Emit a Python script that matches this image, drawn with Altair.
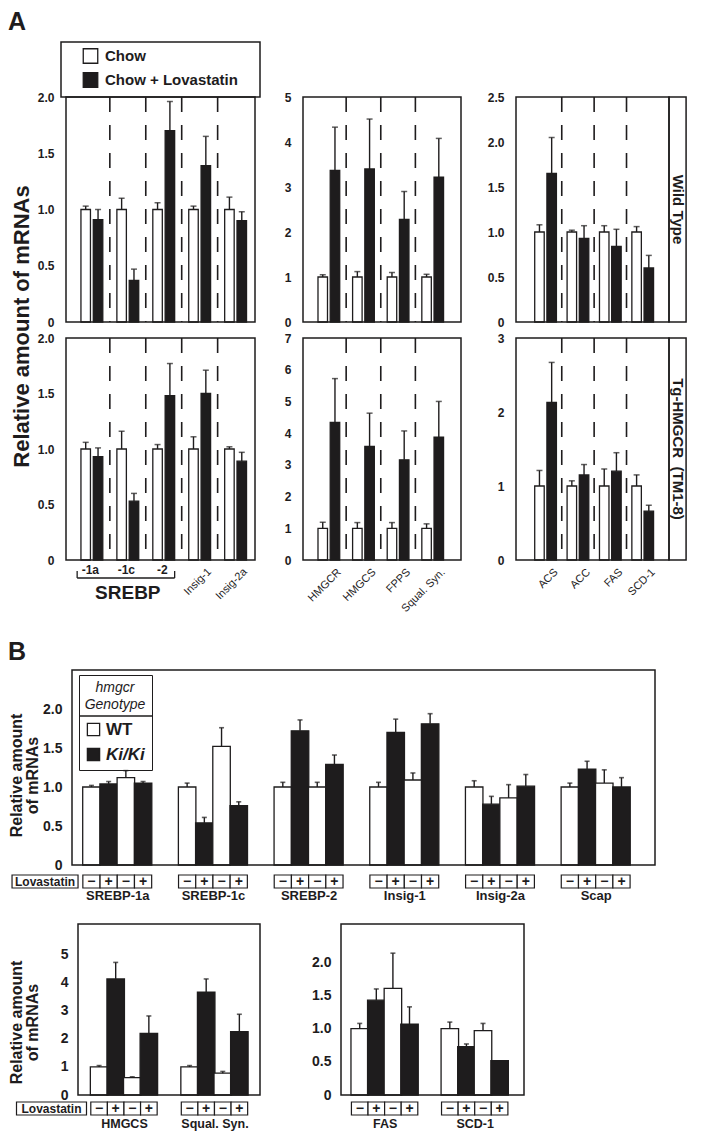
import json
import pandas as pd
import altair as alt

BLACK = "#1e1c1d"
FONT = "Liberation Sans, Arial, Helvetica, sans-serif"
TOT_W, TOT_H = 685, 1123

# ---------------- Panel A data ----------------
a_conditions = ["Chow", "Chow + Lovastatin"]
a_row_labels = ["Wild Type", "Tg-HMGCR \u00a0(TM1-8)"]
a_ytitle = "Relative amount of mRNAs"
a1_genes = ["-1a", "-1c", "-2", "Insig-1", "Insig-2a"]
a1_axis_genes = ["-1a", "-1c", "-2"]
a1_rot_genes = ["Insig-1", "Insig-2a"]
a1_group_label = "SREBP"
a2_genes = ["HMGCR", "HMGCS", "FPPS", "Squal. Syn."]
a3_genes = ["ACS", "ACC", "FAS", "SCD-1"]

# Wild type row
a1_wt_chow = [1.00, 1.00, 1.00, 1.00, 1.00]
a1_wt_chow_err = [0.03, 0.10, 0.06, 0.03, 0.11]
a1_wt_lova = [0.91, 0.37, 1.70, 1.39, 0.90]
a1_wt_lova_err = [0.09, 0.10, 0.26, 0.26, 0.08]
a2_wt_chow = [1.00, 1.00, 1.00, 1.00]
a2_wt_chow_err = [0.05, 0.12, 0.10, 0.06]
a2_wt_lova = [3.37, 3.40, 2.28, 3.22]
a2_wt_lova_err = [0.96, 1.11, 0.62, 0.86]
a3_wt_chow = [1.00, 1.00, 1.00, 1.00]
a3_wt_chow_err = [0.08, 0.02, 0.07, 0.06]
a3_wt_lova = [1.65, 0.93, 0.84, 0.60]
a3_wt_lova_err = [0.40, 0.14, 0.19, 0.14]

# Tg-HMGCR row
a1_tg_chow = [1.00, 1.00, 1.00, 1.00, 1.00]
a1_tg_chow_err = [0.06, 0.16, 0.04, 0.11, 0.02]
a1_tg_lova = [0.93, 0.53, 1.48, 1.50, 0.89]
a1_tg_lova_err = [0.08, 0.07, 0.29, 0.21, 0.08]
a2_tg_chow = [1.00, 1.00, 1.00, 1.00]
a2_tg_chow_err = [0.19, 0.18, 0.18, 0.14]
a2_tg_lova = [4.34, 3.58, 3.16, 3.87]
a2_tg_lova_err = [1.38, 1.05, 0.91, 1.13]
a3_tg_chow = [1.00, 1.00, 1.00, 1.00]
a3_tg_chow_err = [0.21, 0.07, 0.23, 0.15]
a3_tg_lova = [2.13, 1.15, 1.20, 0.66]
a3_tg_lova_err = [0.54, 0.14, 0.25, 0.08]

a1_yticks = [0, 0.5, 1.0, 1.5, 2.0]
a2_wt_yticks = [0, 1, 2, 3, 4, 5]
a3_wt_yticks = [0, 0.5, 1.0, 1.5, 2.0, 2.5]
a2_tg_yticks = [0, 1, 2, 3, 4, 5, 6, 7]
a3_tg_yticks = [0, 1, 2, 3]

# ---------------- Panel B data ----------------
b_ytitle = ["Relative amount", "of mRNAs"]
b_genotypes = ["WT", "Ki/Ki"]
b_bar_genotype = ["WT", "Ki/Ki", "WT", "Ki/Ki"]
b_lovastatin = ["\u2212", "+", "\u2212", "+"]
b_lov_label = "Lovastatin"
b_legend_title = ["hmgcr", "Genotype"]

b_top_genes = ["SREBP-1a", "SREBP-1c", "SREBP-2", "Insig-1", "Insig-2a", "Scap"]
b_top_vals = [
    [1.00, 1.04, 1.12, 1.05],
    [1.00, 0.54, 1.52, 0.76],
    [1.00, 1.72, 1.00, 1.29],
    [1.00, 1.70, 1.09, 1.81],
    [1.00, 0.78, 0.86, 1.01],
    [1.00, 1.23, 1.05, 1.00],
]
b_top_errs = [
    [0.02, 0.03, 0.09, 0.02],
    [0.05, 0.07, 0.24, 0.05],
    [0.06, 0.14, 0.06, 0.12],
    [0.06, 0.17, 0.09, 0.13],
    [0.08, 0.10, 0.17, 0.15],
    [0.05, 0.10, 0.17, 0.12],
]
b_bl_genes = ["HMGCS", "Squal. Syn."]
b_bl_vals = [[1.00, 4.14, 0.62, 2.20], [1.00, 3.67, 0.78, 2.26]]
b_bl_errs = [[0.05, 0.59, 0.03, 0.62], [0.05, 0.47, 0.06, 0.62]]
b_br_genes = ["FAS", "SCD-1"]
b_br_vals = [[1.00, 1.43, 1.61, 1.07], [1.00, 0.73, 0.97, 0.52]]
b_br_errs = [[0.08, 0.17, 0.53, 0.26], [0.10, 0.04, 0.11, 0.00]]

b_top_yticks = [0, 0.5, 1.0, 1.5, 2.0]
b_bl_yticks = [0, 1, 2, 3, 4, 5]
b_br_yticks = [0, 0.5, 1.0, 1.5, 2.0]

B_FILL = {"WT": "white", "Ki/Ki": BLACK}
A_FILL = {"Chow": "white", "Chow + Lovastatin": BLACK}


def names_expr(names):
    return json.dumps(names, ensure_ascii=False) + "[datum.value - 1]"


def y_axis(values, decimals, size, pad, x0, title=None, **kw):
    expr = ("datum.value == 0 ? '0' : format(datum.value, '.1f')"
            if decimals else "format(datum.value, 'd')")
    return alt.Axis(values=values, labelExpr=expr, labelFontSize=size,
                    labelFontWeight="bold", labelPadding=pad, grid=False,
                    ticks=False, domain=False, labelOverlap=False,
                    orient="left", offset=-x0, title=title, **kw)


def frame_layer(X, Y, dom, ymax):
    fdf = pd.DataFrame({"fx0": [dom[0]], "fx1": [dom[1]], "fy0": [0.0], "fy1": [ymax]})
    return (alt.Chart(fdf)
            .mark_rect(fillOpacity=0, stroke=BLACK, strokeWidth=1.5)
            .encode(x=X("fx0:Q"), x2="fx1:Q", y=Y("fy0:Q"), y2="fy1:Q"))


def a_panel(genes, chow, chow_err, lova, lova_err, ymax, yticks, decimals,
            x0, x1, ytop, ybot, dom, xaxis, ytitle_kw=None, extras=None,
            strip_label=None):
    step = (x1 - x0) / (dom[1] - dom[0])
    off = 6.5 / step
    rows = []
    for i, g in enumerate(genes):
        rows.append({"gene": g, "x": i + 1 - off, "val": chow[i],
                     "top": chow[i] + chow_err[i], "fillc": A_FILL[a_conditions[0]]})
        rows.append({"gene": g, "x": i + 1 + off, "val": lova[i],
                     "top": lova[i] + lova_err[i], "fillc": A_FILL[a_conditions[1]]})
    df = pd.DataFrame(rows)
    xs = alt.Scale(domain=dom, range=[x0, x1], nice=False, zero=False)
    ys = alt.Scale(domain=[0, ymax], range=[ybot, ytop], nice=False, zero=True)
    yax = y_axis(yticks, decimals, 12, 7, x0, **(ytitle_kw or {}))
    xax = None
    if xaxis is not None:
        xax = alt.Axis(orient="bottom", offset=-(TOT_H - ybot), grid=False, ticks=False,
                       domain=False, title=None, labelOverlap=False, labelFlush=False,
                       **xaxis)

    def X(f):
        return alt.X(f, scale=xs, axis=xax)

    def Y(f):
        return alt.Y(f, scale=ys, axis=yax)

    dash_df = pd.DataFrame({"b": [i + 1.5 for i in range(len(genes) - 1)],
                            "y0": [ymax] * (len(genes) - 1), "y1": [0.0] * (len(genes) - 1)})
    dashes = (alt.Chart(dash_df)
              .mark_rule(color=BLACK, strokeWidth=1.6, strokeDash=[15, 13])
              .encode(x=X("b:Q"), y=Y("y0:Q"), y2="y1:Q"))
    base = alt.Chart(df)
    bars = (base.mark_bar(size=9.5, stroke=BLACK, strokeWidth=1.3)
            .encode(x=X("x:Q"), y=Y("val:Q"), fill=alt.Fill("fillc:N", scale=None)))
    err = (base.mark_rule(color=BLACK, strokeWidth=1.4)
           .encode(x=X("x:Q"), y=Y("val:Q"), y2="top:Q"))
    cap = (base.mark_tick(orient="horizontal", size=6, thickness=1.5, color=BLACK)
           .encode(x=X("x:Q"), y=Y("top:Q")))
    layers = [dashes, bars, err, cap, frame_layer(X, Y, dom, ymax)]
    if strip_label is not None:
        sw = (TOT_W - x1 - 0.8) / step
        sdf = pd.DataFrame({"t": [strip_label], "sx0": [dom[1]], "sx1": [dom[1] + sw],
                            "sx": [dom[1] + sw / 2], "sy0": [0.0], "sy1": [ymax],
                            "sy": [ymax / 2]})
        srect = (alt.Chart(sdf).mark_rect(fillOpacity=0, stroke=BLACK, strokeWidth=1.5)
                 .encode(x=X("sx0:Q"), x2="sx1:Q", y=Y("sy0:Q"), y2="sy1:Q"))
        stext = (alt.Chart(sdf)
                 .mark_text(angle=90, fontSize=15, fontWeight="bold", font=FONT,
                            color=BLACK, baseline="middle", align="center")
                 .encode(x=X("sx:Q"), y=Y("sy:Q"), text="t:N"))
        layers += [srect, stext]
    if extras is not None:
        layers += extras(X, step, ybot)
    return alt.layer(*layers)


def a1_extras(X, step, ybot):
    ins_df = pd.DataFrame({"name": a1_rot_genes,
                           "x": [a1_genes.index(n) + 1 + 6 / step for n in a1_rot_genes]})
    ins = (alt.Chart(ins_df)
           .mark_text(angle=315, align="right", baseline="top", fontSize=11,
                      font=FONT, color=BLACK)
           .encode(x=X("x:Q"), y=alt.value(ybot + 6), text="name:N"))
    first = a1_genes.index(a1_axis_genes[0]) + 1
    last = a1_genes.index(a1_axis_genes[-1]) + 1
    x0, x1 = first - 15.5 / step, last + 11.5 / step
    br_df = pd.DataFrame({"x0": [x0], "x1": [x1]})
    hline = (alt.Chart(br_df).mark_rule(color=BLACK, strokeWidth=1.3)
             .encode(x=X("x0:Q"), x2="x1:Q", y=alt.value(ybot + 18)))
    hook_df = pd.DataFrame({"x": [x0, x1]})
    hooks = (alt.Chart(hook_df).mark_rule(color=BLACK, strokeWidth=1.3)
             .encode(x=X("x:Q"), y=alt.value(ybot + 11), y2=alt.value(ybot + 18)))
    lab_df = pd.DataFrame({"name": [a1_group_label], "x": [(first + last) / 2]})
    lab = (alt.Chart(lab_df)
           .mark_text(fontSize=19, fontWeight="bold", baseline="middle",
                      font=FONT, color=BLACK)
           .encode(x=X("x:Q"), y=alt.value(ybot + 33), text="name:N"))
    return [ins, hline, hooks, lab]


def rot_axis(names):
    return dict(values=list(range(1, len(names) + 1)), labelExpr=names_expr(names),
                labelAngle=315, labelAlign="right", labelBaseline="top",
                labelFontSize=11, labelFontWeight="normal", labelPadding=6,
                labelOffset=6)


a1_tg_axis = dict(values=[a1_genes.index(n) + 1 for n in a1_axis_genes],
                  labelExpr=names_expr(a1_genes), labelAngle=0,
                  labelFontSize=12, labelFontWeight="bold", labelPadding=4,
                  labelOffset=-2)

A1_DOM, A2_DOM, A3_DOM = [0.28, 5.54], [0.253, 4.818], [0.087, 4.812]
A1_X, A2_X, A3_X = (53, 252), (290, 458), (503, 666)
WT_Y, TG_Y = (89, 314), (330, 552)

a1_wt = a_panel(a1_genes, a1_wt_chow, a1_wt_chow_err, a1_wt_lova, a1_wt_lova_err,
                2.0, a1_yticks, True, *A1_X, *WT_Y, A1_DOM, None,
                ytitle_kw={"title": a_ytitle, "titleFontSize": 22, "titleFontWeight": "bold",
                           "titleAngle": 270, "titleAlign": "center",
                           "titleBaseline": "alphabetic", "titleX": -33,
                           "titleY": WT_Y[0] + 229})
a2_wt = a_panel(a2_genes, a2_wt_chow, a2_wt_chow_err, a2_wt_lova, a2_wt_lova_err,
                5, a2_wt_yticks, False, *A2_X, *WT_Y, A2_DOM, None)
a3_wt = a_panel(a3_genes, a3_wt_chow, a3_wt_chow_err, a3_wt_lova, a3_wt_lova_err,
                2.5, a3_wt_yticks, True, *A3_X, *WT_Y, A3_DOM, None,
                strip_label=a_row_labels[0])

a1_tg = a_panel(a1_genes, a1_tg_chow, a1_tg_chow_err, a1_tg_lova, a1_tg_lova_err,
                2.0, a1_yticks, True, *A1_X, *TG_Y, A1_DOM, a1_tg_axis, extras=a1_extras)
a2_tg = a_panel(a2_genes, a2_tg_chow, a2_tg_chow_err, a2_tg_lova, a2_tg_lova_err,
                7, a2_tg_yticks, False, *A2_X, *TG_Y, A2_DOM, rot_axis(a2_genes))
a3_tg = a_panel(a3_genes, a3_tg_chow, a3_tg_chow_err, a3_tg_lova, a3_tg_lova_err,
                3, a3_tg_yticks, False, *A3_X, *TG_Y, A3_DOM, rot_axis(a3_genes),
                strip_label=a_row_labels[1])

# legend box of panel A (sits on top of the first wild-type panel)
LEG_Y = (34, 89)
leg_df = pd.DataFrame({"name": a_conditions, "fillc": [A_FILL[c] for c in a_conditions]})
leg_y = alt.Y("name:N", scale=alt.Scale(domain=a_conditions, padding=0,
                                        range=[LEG_Y[0] + 14, LEG_Y[0] + 38]), axis=None)
leg_box = (alt.Chart(pd.DataFrame({"d": [0]}))
           .mark_rect(fillOpacity=0, stroke=BLACK, strokeWidth=1.5)
           .encode(x=alt.value(A1_X[0]), x2=alt.value(A1_X[1]),
                   y=alt.value(LEG_Y[0]), y2=alt.value(LEG_Y[1])))
leg_sq = (alt.Chart(leg_df)
          .mark_square(size=210, stroke=BLACK, strokeWidth=1.3, opacity=1)
          .encode(x=alt.value(A1_X[0] + 29.5), y=leg_y, fill=alt.Fill("fillc:N", scale=None)))
leg_tx = (alt.Chart(leg_df)
          .mark_text(align="left", baseline="middle", fontSize=15, fontWeight="bold",
                     font=FONT, color=BLACK)
          .encode(x=alt.value(A1_X[0] + 44), y=leg_y, text="name:N"))
a_legend = alt.layer(leg_box, leg_sq, leg_tx)

# panel letters
letters_df = pd.DataFrame({"t": ["A", "B"]})
letter_a = (alt.Chart(letters_df).transform_filter("datum.t == 'A'")
            .mark_text(align="left", baseline="alphabetic", fontSize=25, fontWeight="bold",
                       font=FONT, color=BLACK)
            .encode(text="t:N", x=alt.value(0), y=alt.value(22)))
letter_b = (alt.Chart(letters_df).transform_filter("datum.t == 'B'")
            .mark_text(align="left", baseline="alphabetic", fontSize=25, fontWeight="bold",
                       font=FONT, color=BLACK)
            .encode(text="t:N", x=alt.value(0), y=alt.value(652)))


def b_panel(genes, vals, errs, ymax, yticks, decimals, x0, x1, ytop, ybot, dom,
            label_pad, cell_off=10, label_size=13, ytitle_kw=None, legend=False,
            lov_width=None):
    step = (x1 - x0) / (dom[1] - dom[0])
    bw = 17.5 / step
    rows = []
    for i, g in enumerate(genes):
        for j in range(4):
            v, e = vals[i][j], errs[i][j]
            c = i + 1 + (j - 1.5) * bw
            rows.append({"gene": g, "x": c, "xl": c - bw / 2, "xr": c + bw / 2,
                         "val": v, "top": v + e, "err": e,
                         "geno": b_bar_genotype[j], "fillc": B_FILL[b_bar_genotype[j]],
                         "sign": b_lovastatin[j]})
    df = pd.DataFrame(rows)
    xs = alt.Scale(domain=dom, range=[x0, x1], nice=False, zero=False)
    ys = alt.Scale(domain=[0, ymax], range=[ybot, ytop], nice=False, zero=True)
    xax = alt.Axis(values=list(range(1, len(genes) + 1)), labelExpr=names_expr(genes),
                   labelAngle=0, labelPadding=label_pad, labelFontSize=label_size,
                   labelFontWeight="bold", labelOverlap=False, labelFlush=False,
                   grid=False, ticks=False, domain=False, title=None,
                   orient="bottom", offset=-(TOT_H - ybot))
    yax = y_axis(yticks, decimals, 14, 5, x0, **(ytitle_kw or {}))

    def X(f):
        return alt.X(f, scale=xs, axis=xax)

    def Y(f):
        return alt.Y(f, scale=ys, axis=yax)

    if legend:
        fill = alt.Fill("geno:N",
                        scale=alt.Scale(domain=b_genotypes,
                                        range=[B_FILL[g] for g in b_genotypes]),
                        legend=alt.Legend(orient="none", legendX=x0 + 12, legendY=ytop + 5,
                                          title=b_legend_title, titleFontStyle="italic",
                                          titleFontWeight="normal", titleFontSize=14,
                                          titleLineHeight=17, titleAnchor="middle",
                                          titleAlign="center", titlePadding=9,
                                          titleColor=BLACK,
                                          strokeColor=BLACK, padding=6,
                                          symbolType="square", symbolSize=150,
                                          symbolStrokeColor=BLACK, symbolStrokeWidth=1.3,
                                          symbolOpacity=1, labelFontSize=17,
                                          labelFontWeight="bold", labelColor=BLACK,
                                          labelFontStyle={"expr": "datum.value === 'Ki/Ki' ? 'italic' : 'normal'"},
                                          labelOffset=4, rowPadding=6))
    else:
        fill = alt.Fill("fillc:N", scale=None)
    cy0, cy1 = ybot + cell_off, ybot + cell_off + 13
    base = alt.Chart(df)
    bars = (base.mark_bar(size=17.5, stroke=BLACK, strokeWidth=1.3)
            .encode(x=X("x:Q"), y=Y("val:Q"), fill=fill))
    ebase = base.transform_filter("datum.err > 0")
    err = (ebase.mark_rule(color=BLACK, strokeWidth=1.4)
           .encode(x=X("x:Q"), y=Y("val:Q"), y2="top:Q"))
    cap = (ebase.mark_tick(orient="horizontal", size=5, thickness=1.6, color=BLACK)
           .encode(x=X("x:Q"), y=Y("top:Q")))
    cells = (base.mark_rect(fill="white", stroke=BLACK, strokeWidth=1.2)
             .encode(x=X("xl:Q"), x2="xr:Q", y=alt.value(cy0), y2=alt.value(cy1)))
    signs = (base.mark_text(fontSize=14, fontWeight="bold", baseline="middle",
                            font=FONT, color=BLACK)
             .encode(x=X("x:Q"), y=alt.value((cy0 + cy1) / 2), text="sign:N"))
    layers = [bars, err, cap, frame_layer(X, Y, dom, ymax), cells, signs]
    if lov_width is not None:
        px_r = x0 + (1 - 2 * bw - dom[0]) * step
        px_l = px_r - lov_width
        ldf = pd.DataFrame({"t": [b_lov_label]})
        lbox = (alt.Chart(ldf).mark_rect(fill="white", stroke=BLACK, strokeWidth=1.2)
                .encode(x=alt.value(px_l), x2=alt.value(px_r),
                        y=alt.value(cy0), y2=alt.value(cy1)))
        ltxt = (alt.Chart(ldf).mark_text(fontSize=12, fontWeight="bold", baseline="middle",
                                         font=FONT, color=BLACK)
                .encode(x=alt.value((px_l + px_r) / 2), y=alt.value((cy0 + cy1) / 2),
                        text="t:N"))
        layers += [lbox, ltxt]
    if legend:
        ddf = pd.DataFrame({"d": [0]})
        div = (alt.Chart(ddf).mark_rule(color=BLACK, strokeWidth=1.3)
               .encode(x=alt.value(x0 + 12), x2=alt.value(x0 + 85), y=alt.value(ytop + 46)))
        layers.append(div)
    return alt.layer(*layers)


b_title_common = {"title": b_ytitle, "titleFontSize": 16, "titleFontWeight": "bold",
                  "titleAngle": 270, "titleAlign": "center", "titleBaseline": "alphabetic",
                  "titleLineHeight": 16}

BT_X, BT_Y = (59, 652), (662, 857)
BL_X, BR_X, BB_Y = (65, 257), (328, 521), (916, 1087)

b_top = b_panel(b_top_genes, b_top_vals, b_top_errs, 2.5, b_top_yticks, True,
                *BT_X, *BT_Y, [0.527, 6.62], 24,
                ytitle_kw=dict(b_title_common, titleX=-46, titleY=BT_Y[0] + 105),
                legend=True, lov_width=66)
b_bl = b_panel(b_bl_genes, b_bl_vals, b_bl_errs, 6.1, b_bl_yticks, False,
               *BL_X, *BB_Y, [0.492, 2.503], 22, cell_off=7, label_size=12.5,
               ytitle_kw=dict(b_title_common, titleX=-52, titleY=BB_Y[0] + 98),
               lov_width=70)
b_br = b_panel(b_br_genes, b_br_vals, b_br_errs, 2.58, b_br_yticks, True,
               *BR_X, *BB_Y, [0.516, 2.547], 22, cell_off=7, label_size=12.5)

chart = (alt.layer(a_legend, a1_wt, a2_wt, a3_wt, a1_tg, a2_tg, a3_tg,
                   b_top, b_bl, b_br, letter_a, letter_b)
         .resolve_scale(x="independent", y="independent")
         .resolve_axis(x="independent", y="independent")
         .properties(width=TOT_W, height=TOT_H, padding=0, background="white",
                     autosize=alt.AutoSizeParams(type="none"))
         .configure_view(stroke="transparent")
         .configure_axis(labelFont=FONT, titleFont=FONT, labelColor=BLACK, titleColor=BLACK)
         .configure_legend(labelFont=FONT, titleFont=FONT))

chart.save("out.html", embed_options={"renderer": "svg", "actions": False})
